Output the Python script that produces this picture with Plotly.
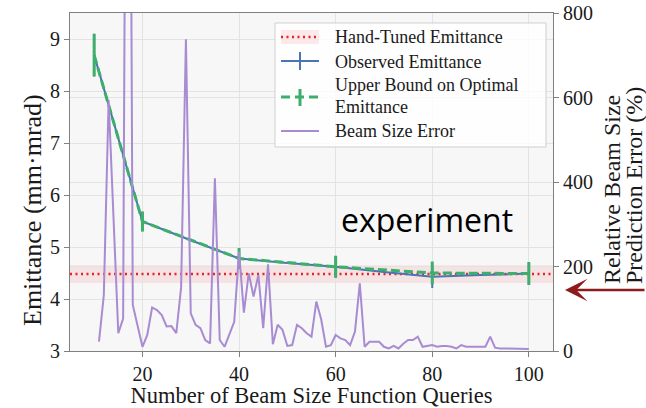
import plotly.graph_objects as go

# ---------------- data ----------------
query_pts = [10, 20, 40, 60, 80, 100]          # emittance evaluations
observed_x = [10, 20, 30, 40, 50, 60, 70, 80, 90, 100]
observed_emit = [8.69, 5.49, 5.13, 4.78, 4.69, 4.62, 4.52, 4.43, 4.46, 4.49]
observed_err = [0.41, 0.19, 0, 0.20, 0, 0.21, 0, 0.22, 0, 0.22]
upper_emit = [8.69, 5.49, 4.78, 4.62, 4.50, 4.49]
upper_err = [0.41, 0.19, 0.20, 0.21, 0.22, 0.22]

hand_tuned = 4.48
hand_tuned_spread = 0.17

query_counts = list(range(11, 101))
beam_size_error = [
    22, 132, 594, 318, 42, 77, 2500, 109, 60, 10,
    38, 103, 97, 85, 58, 59, 42, 150, 738, 89,
    62, 54, 26, 18, 409, 26, 10, 42, 69, 235,
    91, 184, 129, 180, 54, 205, 16, 62, 50, 12,
    14, 62, 54, 42, 34, 117, 75, 10, 14, 38,
    30, 26, 14, 46, 160, 10, 22, 22, 22, 10,
    6, 12, 6, 17, 26, 26, 34, 10, 12, 14,
    10, 12, 12, 10, 6, 14, 10, 10, 10, 10,
    10, 34, 8, 6, 6, 6, 6, 5, 5, 5,
]

x_ticks = [20, 40, 60, 80, 100]
y_ticks = [3, 4, 5, 6, 7, 8, 9]
y2_ticks = [0, 200, 400, 600, 800]
x_range = [5, 105]
y_range = [3, 9.5]
y2_range = [0, 800]

legend_labels = ["Hand-Tuned Emittance", "Observed Emittance",
                 "Upper Bound on Optimal", "Emittance", "Beam Size Error"]

# ---------------- style ----------------
BLUE = "#4a74b4"
GREEN = "#3eae6c"
RED = "#e8202a"
PURPLE = "#a88bd2"
SPINE = "#808080"
PINK = "rgba(235,60,60,0.10)"
SERIF = "Liberation Serif, Times New Roman, DejaVu Serif, serif"
FS = 20

W, H = 646, 408
ML, MR, MT, MB = 70, 93, 13, 57
PW, PH = W - ML - MR, H - MT - MB


def px(xp):
    return (xp - ML) / PW


def py(yp):
    return 1 - (yp - MT) / PH


fig = go.Figure()

fig.add_shape(type="rect", xref="paper", x0=0, x1=1, yref="y",
              y0=hand_tuned - hand_tuned_spread, y1=hand_tuned + hand_tuned_spread,
              fillcolor=PINK, line_width=0, layer="below")

fig.add_trace(go.Scatter(x=x_range, y=[hand_tuned, hand_tuned], mode="lines",
                         line=dict(color=RED, width=2.5, dash="2px,3.5px")))

fig.add_trace(go.Scatter(x=observed_x, y=observed_emit, mode="lines",
                         line=dict(color=BLUE, width=2),
                         error_y=dict(type="data", array=observed_err, width=0,
                                      thickness=2, color=BLUE)))

fig.add_trace(go.Scatter(x=query_pts, y=upper_emit, mode="lines",
                         line=dict(color=GREEN, width=3, dash="9px,4px"),
                         error_y=dict(type="data", array=upper_err, width=0,
                                      thickness=3, color=GREEN)))

fig.add_trace(go.Scatter(x=query_counts, y=beam_size_error, mode="lines",
                         line=dict(color=PURPLE, width=2), yaxis="y2"))

axis_common = dict(showline=True, linecolor=SPINE, linewidth=1.2,
                   ticks="outside", ticklen=5, tickwidth=1, tickcolor=SPINE,
                   gridcolor="#e3e3e3", gridwidth=1, zeroline=False,
                   automargin=False,
                   tickfont=dict(family=SERIF, size=FS, color="#1a1a1a"))

# ---------- hand-made legend (matplotlib style) ----------
shapes = []
shapes.append(dict(type="rect", xref="paper", yref="paper",
                   x0=px(275), x1=px(546), y0=py(23), y1=py(147),
                   fillcolor="rgba(255,255,255,0.82)",
                   line=dict(color="#cfcfcf", width=1), layer="above"))
sx0, sx1, sxc = px(281), px(319), px(300)
shapes += [
    dict(type="rect", xref="paper", yref="paper", x0=sx0, x1=sx1,
         y0=py(30), y1=py(44), fillcolor=PINK, line_width=0, layer="above"),
    dict(type="line", xref="paper", yref="paper", x0=sx0, x1=sx1,
         y0=py(37), y1=py(37), line=dict(color=RED, width=2.5, dash="2px,3.5px"),
         layer="above"),
    dict(type="line", xref="paper", yref="paper", x0=sx0, x1=sx1,
         y0=py(61), y1=py(61), line=dict(color=BLUE, width=2), layer="above"),
    dict(type="line", xref="paper", yref="paper", x0=sxc, x1=sxc,
         y0=py(52), y1=py(70), line=dict(color=BLUE, width=2), layer="above"),
    dict(type="line", xref="paper", yref="paper", x0=sx0, x1=sx1,
         y0=py(97), y1=py(97), line=dict(color=GREEN, width=3, dash="9px,5px"),
         layer="above"),
    dict(type="line", xref="paper", yref="paper", x0=sxc, x1=sxc,
         y0=py(89), y1=py(106), line=dict(color=GREEN, width=3), layer="above"),
    dict(type="line", xref="paper", yref="paper", x0=sx0, x1=sx1,
         y0=py(131), y1=py(131), line=dict(color=PURPLE, width=2), layer="above"),
]
for s in shapes:
    fig.add_shape(**s)

annotations = []
for label, yc in zip(legend_labels, [37, 62, 85, 107, 131]):
    annotations.append(dict(text=label, xref="paper", yref="paper", x=px(333),
                            y=py(yc), xanchor="left", yanchor="middle",
                            showarrow=False,
                            font=dict(family=SERIF, size=18, color="#1a1a1a")))

# axis titles for y axes
annotations += [
    dict(text="Emittance (mm·mrad)", xref="paper", yref="paper",
         x=px(32), y=py(210), textangle=-90, xanchor="center", yanchor="middle",
         showarrow=False, font=dict(family=SERIF, size=26, color="#1a1a1a")),
    dict(text="Relative Beam Size", xref="paper", yref="paper",
         x=px(612), y=py(190), textangle=-90, xanchor="center", yanchor="middle",
         showarrow=False, font=dict(family=SERIF, size=24, color="#1a1a1a")),
    dict(text="Prediction Error (%)", xref="paper", yref="paper",
         x=px(634), y=py(186), textangle=-90, xanchor="center", yanchor="middle",
         showarrow=False, font=dict(family=SERIF, size=24, color="#1a1a1a")),
    dict(text="experiment", xref="paper", yref="paper", x=px(427), y=py(219),
         xanchor="center", yanchor="middle", showarrow=False,
         font=dict(family="Open Sans", size=32, color="black")),
    dict(text="", xref="paper", yref="paper", x=px(565), y=py(290),
         ax=81, ay=0, axref="pixel", ayref="pixel", showarrow=True,
         arrowhead=3, arrowsize=1.5, arrowwidth=2.5, arrowcolor="#8e1b1b"),
]

fig.update_layout(
    template="none",
    width=W, height=H,
    margin=dict(l=ML, r=MR, t=MT, b=MB),
    paper_bgcolor="white", plot_bgcolor="#f7f7f7",
    font=dict(family=SERIF, size=FS, color="#1a1a1a"),
    showlegend=False,
    xaxis=dict(range=x_range, tickvals=x_ticks, mirror=True,
               title=dict(text="Number of Beam Size Function Queries",
                          font=dict(family=SERIF, size=22.5), standoff=4),
               **axis_common),
    yaxis=dict(range=y_range, tickvals=y_ticks, **axis_common),
    yaxis2=dict(range=y2_range, tickvals=y2_ticks, overlaying="y", side="right",
                **axis_common),
    annotations=annotations,
)

fig.write_html("out.html")
